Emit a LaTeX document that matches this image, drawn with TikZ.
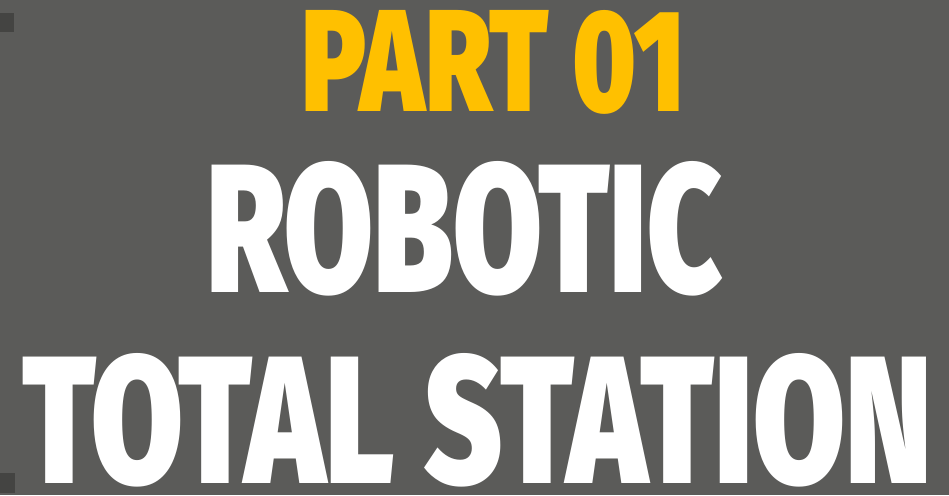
\documentclass[tikz,border=0pt]{standalone}
\usepackage{fontspec}
\usepackage{xcolor}
\usepackage{graphicx}
\usepackage{tikz}
\setmainfont{Fira Sans}[UprightFont=* Black]

\definecolor{sfondo}{HTML}{5B5B59}
\definecolor{oro}{HTML}{FFC000}
\definecolor{ombra}{HTML}{444442}
\tikzset{titolo/.style={inner sep=0pt, outer sep=0pt, anchor=center}}

\begin{document}
\begin{tikzpicture}[x=1pt, y=1pt]

% Sfondo grigio
\useasboundingbox (0,0) rectangle (949,495);
\fill[sfondo] (0,0) rectangle (949,495);

% Piccole macchie scure sul bordo sinistro
\fill[ombra] (0,463) rectangle (14,482);
\fill[ombra] (0,2) rectangle (15,22);

% Titolo in giallo
\node[titolo, text=oro] (parte) at (494,432.5) {\resizebox{384pt}{101pt}{PART 01}};

% Prima riga bianca
\node[titolo, text=white] (robotic) at (464.3,266.3) {\resizebox{515pt}{131pt}{ROBOTIC}};

% Seconda riga bianca
\node[titolo, text=white] (stazione) at (477.2,75) {\resizebox{909pt}{130pt}{TOTAL STATION}};

\end{tikzpicture}
\end{document}
